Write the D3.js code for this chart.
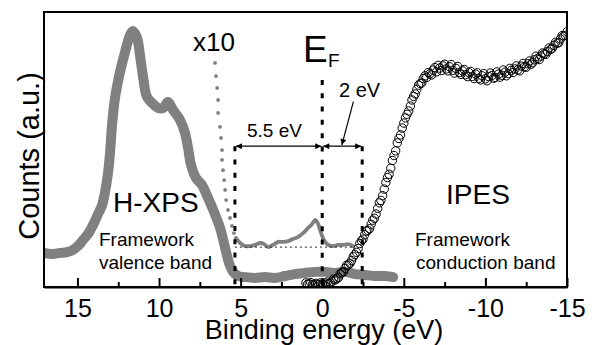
<!DOCTYPE html>
<html>
<head>
<meta charset="utf-8">
<script src="https://cdn.jsdelivr.net/npm/d3@7"></script>
<style>
  body { margin: 0; background: #fff; }
  svg text { font-family: 'Liberation Sans', Arial, sans-serif; }
</style>
</head>
<body>
<svg id="chart"></svg>
<script>
// H-XPS valence band: [binding energy eV, counts a.u.]
const xpsData = [
  [17.05, 12.4], [16.56, 12.0], [16.07, 12.4], [15.64, 12.7], [15.27, 13.5], [14.97, 14.9],
  [14.66, 17.1], [14.35, 19.3], [14.05, 22.5], [13.74, 26.5], [13.49, 29.8], [13.31, 34.5],
  [13.12, 41.8], [13.0, 49.1], [12.88, 58.9], [12.69, 69.1], [12.39, 78.2], [12.08, 85.5],
  [11.78, 91.6], [11.6, 93.1], [11.35, 90.6], [11.17, 84.4], [10.98, 76.4], [10.74, 69.1],
  [10.43, 66.9], [10.06, 65.1], [9.75, 65.1], [9.45, 67.3], [9.14, 64.4], [8.71, 60.7],
  [8.41, 56.0], [8.22, 50.5], [8.04, 44.4], [7.73, 39.6], [7.37, 37.1], [7.0, 32.4],
  [6.63, 27.3], [6.26, 21.5], [5.95, 14.2], [5.71, 8.7], [5.46, 5.5], [5.16, 4.0],
  [4.73, 3.6], [4.11, 3.3], [3.5, 3.6], [2.89, 3.3], [2.28, 4.0], [1.67, 4.7],
  [1.05, 5.1], [0.44, 5.5], [-0.18, 5.5], [-0.79, 5.1], [-1.4, 5.5], [-2.02, 4.7],
  [-2.63, 4.4], [-3.24, 4.0], [-3.86, 4.0], [-4.35, 3.6]
]

// x10 magnified onset: sparse dotted part and solid part
const x10Dots = [
  [6.57, 81.5], [6.51, 76.7], [6.44, 72.4], [6.38, 68.0], [6.38, 63.3], [6.26, 58.2],
  [6.2, 54.2], [6.14, 49.8], [6.14, 46.2], [6.08, 42.5], [6.01, 38.9], [5.95, 35.3],
  [5.89, 31.6], [5.77, 28.0], [5.65, 25.1], [5.53, 22.2], [5.41, 19.6], [5.28, 17.8]
]
const x10Line = [
  [5.28, 17.8], [5.03, 16.0], [4.73, 14.9], [4.42, 14.9], [4.11, 15.3], [3.8, 16.0],
  [3.56, 15.6], [3.31, 14.5], [3.01, 15.3], [2.7, 16.4], [2.39, 16.4], [2.09, 16.7],
  [1.78, 17.5], [1.47, 18.2], [1.17, 19.6], [0.86, 21.5], [0.62, 22.9], [0.43, 24.4],
  [0.25, 22.9], [0.07, 19.6], [-0.11, 17.1], [-0.36, 15.3], [-0.66, 14.9], [-0.97, 15.3],
  [-1.28, 15.3], [-1.59, 15.6], [-1.89, 14.9]
]
const x10Baseline = [[5.35, 14.5], [-1.9, 14.5]]

// IPES conduction band, even scan
const ipesData = [
  [1.0, 1.5], [0.8, 1.2], [0.6, 0.9], [0.4, 1.3], [0.2, 0.8], [0.0, 1.1], [-0.2, 1.4],
  [-0.4, 1.2], [-0.6, 2.0], [-0.8, 2.6], [-1.0, 3.5], [-1.2, 5.2], [-1.4, 6.8], [-1.6, 8.0],
  [-1.8, 9.6], [-2.0, 11.8], [-2.2, 14.0], [-2.4, 16.8], [-2.6, 19.0], [-2.8, 20.6],
  [-3.0, 22.8], [-3.2, 25.0], [-3.4, 28.6], [-3.6, 31.5], [-3.8, 35.6], [-4.0, 39.8],
  [-4.2, 43.2], [-4.4, 47.8], [-4.6, 52.4], [-4.8, 55.3], [-5.0, 59.6], [-5.2, 62.8],
  [-5.4, 65.8], [-5.6, 69.3], [-5.8, 71.9], [-6.0, 74.0], [-6.2, 75.8], [-6.4, 76.2],
  [-6.6, 77.5], [-6.8, 78.9], [-7.0, 78.2], [-7.2, 79.6], [-7.4, 80.4], [-7.6, 79.3],
  [-7.8, 80.1], [-8.0, 78.8], [-8.2, 79.5], [-8.4, 78.0], [-8.6, 78.6], [-8.8, 77.2],
  [-9.0, 77.9], [-9.2, 76.6], [-9.4, 77.4], [-9.6, 75.9], [-9.8, 76.8], [-10.0, 75.7],
  [-10.2, 76.5], [-10.4, 76.9], [-10.6, 76.2], [-10.8, 77.4], [-11.0, 77.0], [-11.2, 78.1],
  [-11.4, 77.6], [-11.6, 78.8], [-11.8, 79.3], [-12.0, 79.0], [-12.2, 80.3], [-12.4, 80.1],
  [-12.6, 81.2], [-12.8, 81.0], [-13.0, 82.6], [-13.2, 83.1], [-13.4, 84.0], [-13.6, 84.8],
  [-13.8, 85.6], [-14.0, 86.4], [-14.2, 87.9], [-14.4, 88.6], [-14.6, 90.2], [-14.8, 91.3],
  [-15.0, 92.8]
]
// IPES conduction band, odd scan
const ipesDataB = [
  [0.9, 1.0], [0.7, 1.6], [0.5, 0.7], [0.3, 1.0], [0.1, 1.5], [-0.1, 0.9], [-0.3, 1.8],
  [-0.5, 1.5], [-0.7, 2.9], [-0.9, 3.0], [-1.1, 4.8], [-1.3, 5.5], [-1.5, 7.9], [-1.7, 8.6],
  [-1.9, 11.0], [-2.1, 12.6], [-2.3, 15.8], [-2.5, 17.4], [-2.7, 20.3], [-2.9, 21.2],
  [-3.1, 24.3], [-3.3, 26.5], [-3.5, 30.6], [-3.7, 33.2], [-3.9, 38.0], [-4.1, 41.0],
  [-4.3, 46.0], [-4.5, 49.5], [-4.7, 54.0], [-4.9, 57.8], [-5.1, 61.5], [-5.3, 64.0],
  [-5.5, 68.0], [-5.7, 70.2], [-5.9, 73.4], [-6.1, 74.2], [-6.3, 76.8], [-6.5, 78.0],
  [-6.7, 77.1], [-6.9, 79.8], [-7.1, 80.6], [-7.3, 78.7], [-7.5, 81.0], [-7.7, 78.6],
  [-7.9, 80.9], [-8.1, 77.8], [-8.3, 80.2], [-8.5, 77.3], [-8.7, 79.1], [-8.9, 76.5],
  [-9.1, 78.4], [-9.3, 75.8], [-9.5, 77.9], [-9.7, 75.3], [-9.9, 77.6], [-10.1, 75.0],
  [-10.3, 77.8], [-10.5, 75.9], [-10.7, 78.2], [-10.9, 76.3], [-11.1, 78.9], [-11.3, 76.8],
  [-11.5, 79.5], [-11.7, 78.0], [-11.9, 80.4], [-12.1, 78.6], [-12.3, 81.3], [-12.5, 79.9],
  [-12.7, 82.2], [-12.9, 81.6], [-13.1, 83.9], [-13.3, 82.7], [-13.5, 85.1], [-13.7, 84.6],
  [-13.9, 86.9], [-14.1, 86.8], [-14.3, 89.0], [-14.5, 88.9], [-14.7, 91.4], [-14.9, 91.5]
]

// gap markers: energies and top of each dashed line
const gapEdges = [5.35, 0, -2.45]
const gapTops = [51.2, 75.3, 51.2]
const arrowLevel = 51.2
const pointer = [[-1.91, 67.4], [-1.2, 51.6]]

const majorTicks = [15, 10, 5, 0, -5, -10, -15]
const minorTicks = [12.5, 7.5, 2.5, -2.5, -7.5, -12.5]

let width = 595
let height = 345
let margin = { top: 12, right: 28, bottom: 58, left: 44 }
let svg = d3.select('#chart').attr('width', width).attr('height', height)

let x = d3.scaleLinear().domain([17.05, -15]).range([margin.left, width - margin.right])
let y = d3.scaleLinear().domain([0, 100]).range([height - margin.bottom, margin.top])

let grey = '#808080'

svg.append('defs').append('clipPath').attr('id', 'clip')
  .append('rect')
  .attr('x', margin.left).attr('y', margin.top)
  .attr('width', x.range()[1] - margin.left).attr('height', y.range()[0] - margin.top)

svg.select('defs').append('marker')
  .attr('id', 'head')
  .attr('viewBox', '0 0 10 10')
  .attr('refX', 10).attr('refY', 5)
  .attr('markerUnits', 'userSpaceOnUse')
  .attr('markerWidth', 8).attr('markerHeight', 6)
  .attr('orient', 'auto-start-reverse')
  .append('path').attr('d', 'M0,0L10,5L0,10z').attr('fill', '#000')

let plot = svg.append('g').attr('clip-path', 'url(#clip)')

let line = d3.line().x(d => x(d[0])).y(d => y(d[1])).curve(d3.curveCatmullRom)

// H-XPS thick grey trace
plot.append('path')
  .attr('d', line(xpsData))
  .attr('fill', 'none')
  .attr('stroke', grey)
  .attr('stroke-width', 10)
  .attr('stroke-linejoin', 'round')
  .attr('stroke-linecap', 'round')

// x10 trace
plot.selectAll('.dot10')
  .data(x10Dots)
  .enter()
  .append('circle')
  .attr('class', 'dot10')
  .attr('cx', d => x(d[0]))
  .attr('cy', d => y(d[1]))
  .attr('r', 1.9)
  .attr('fill', grey)

plot.append('path')
  .attr('d', line(x10Line))
  .attr('fill', 'none')
  .attr('stroke', grey)
  .attr('stroke-width', 3.8)
  .attr('stroke-linejoin', 'round')
  .attr('stroke-linecap', 'round')

plot.append('path')
  .attr('d', d3.line().x(d => x(d[0])).y(d => y(d[1]))(x10Baseline))
  .attr('stroke', '#222')
  .attr('stroke-width', 1)
  .attr('stroke-dasharray', '2,3')

// dashed markers
plot.selectAll('.gap')
  .data(gapEdges)
  .enter()
  .append('line')
  .attr('class', 'gap')
  .attr('x1', d => x(d)).attr('x2', d => x(d))
  .attr('y1', (d, i) => y(gapTops[i]))
  .attr('y2', y(0))
  .attr('stroke', '#000')
  .attr('stroke-width', 3)
  .attr('stroke-dasharray', '5,8.3')

// double arrows between the markers
let spans = [[gapEdges[0], gapEdges[1]], [gapEdges[1], gapEdges[2]]]
svg.selectAll('.span')
  .data(spans)
  .enter()
  .append('line')
  .attr('class', 'span')
  .attr('x1', d => x(d[0]) + 1).attr('x2', d => x(d[1]) - 1)
  .attr('y1', y(arrowLevel)).attr('y2', y(arrowLevel))
  .attr('stroke', '#000')
  .attr('stroke-width', 1.2)
  .attr('marker-start', 'url(#head)')
  .attr('marker-end', 'url(#head)')

svg.append('line')
  .attr('x1', x(pointer[0][0])).attr('y1', y(pointer[0][1]))
  .attr('x2', x(pointer[1][0])).attr('y2', y(pointer[1][1]))
  .attr('stroke', '#000')
  .attr('stroke-width', 1.2)
  .attr('marker-end', 'url(#head)')

// IPES open circles
plot.selectAll('.ipes')
  .data(ipesData.concat(ipesDataB))
  .enter()
  .append('circle')
  .attr('class', 'ipes')
  .attr('cx', d => x(d[0]))
  .attr('cy', d => y(d[1]))
  .attr('r', 4.2)
  .attr('fill', 'none')
  .attr('stroke', '#000')
  .attr('stroke-width', 1)

// frame and axis
svg.append('rect')
  .attr('x', margin.left).attr('y', margin.top)
  .attr('width', x.range()[1] - margin.left).attr('height', y.range()[0] - margin.top)
  .attr('fill', 'none').attr('stroke', '#000').attr('stroke-width', 2)

let xAxis = d3.axisBottom(x).tickValues(majorTicks).tickSizeInner(-9).tickSizeOuter(0)
  .tickPadding(12.5)
let axisX = svg.append('g')
  .attr('transform', 'translate(0,' + y(0) + ')')
  .call(xAxis)
axisX.select('.domain').attr('stroke-width', 2)
axisX.selectAll('.tick line').attr('stroke-width', 2)
axisX.selectAll('.tick text')
  .attr('font-size', '25px')
  .attr('font-family', "'Liberation Sans', Arial, sans-serif")
  .attr('fill', '#000')
  .text(d => d < 0 ? '-' + Math.abs(d) : d)

let minorAxis = d3.axisBottom(x).tickValues(minorTicks).tickSizeInner(-5).tickSizeOuter(0).tickFormat('')
let axisMinor = svg.append('g')
  .attr('transform', 'translate(0,' + y(0) + ')')
  .call(minorAxis)
axisMinor.select('.domain').remove()
axisMinor.selectAll('.tick line').attr('stroke-width', 2)

// labels
function label (txt, px, py, size, anchor) {
  return svg.append('text')
    .attr('x', px).attr('y', py)
    .attr('font-size', size + 'px')
    .attr('text-anchor', anchor || 'start')
    .attr('fill', '#000')
    .text(txt)
}

label('Binding energy (eV)', 324, 339, 27, 'middle')
svg.append('text')
  .attr('transform', 'translate(39,156) rotate(-90)')
  .attr('text-anchor', 'middle')
  .attr('font-size', '29px')
  .text('Counts (a.u.)')

label('x10', 193, 51, 26)
label('E', 303, 62, 37)
label('F', 328, 67, 19)
label('5.5 eV', 247, 137, 19)
label('2 eV', 339, 97, 20)
label('H-XPS', 113, 212, 28)
label('Framework', 99, 246, 19)
label('valence band', 99, 269, 19)
label('IPES', 446, 204, 28)
label('Framework', 415, 246, 19)
label('conduction band', 416, 269, 19)
</script>
</body>
</html>
